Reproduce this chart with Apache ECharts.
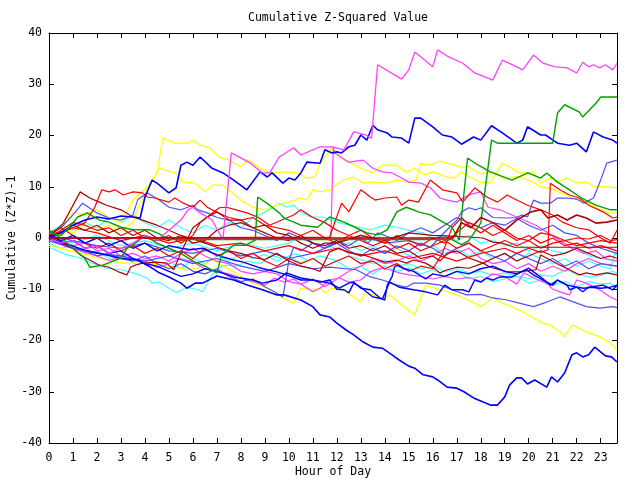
<!DOCTYPE html>
<html><head><meta charset="utf-8">
<script src="https://cdn.jsdelivr.net/npm/echarts@6/dist/echarts.min.js"></script>
<style>html,body{margin:0;padding:0;background:#fff}#c{width:640px;height:480px}</style>
</head><body><div id="c"></div>
<script>
const titleText = "Cumulative Z-Squared Value";
const xName = "Hour of Day";
const yName = "Cumulative (Z*Z)-1";
const xMin = 0, xMax = 23.68, yMin = -40, yMax = 40;

const pinkTop = [[0,0],[0.5,-1],[1,-0.5],[1.5,-2],[2,-1.5],[2.5,-3],[3,-2],[3.5,-1],[4,0.5],[4.5,-0.5],[5,1.5],[5.5,3.5],[5.8,5.5],[6,6],[6.3,4.9],[6.8,3.5],[7.25,-0.4],[7.6,16.6],[8.4,14.6],[8.9,12.7],[9.2,12.7],[9.6,15.8],[10.2,17.6],[10.5,16.2],[11,17.2],[11.3,17.8],[11.8,17.8],[12.3,17.2],[12.7,20.7],[13.2,20.1],[13.45,19.5],[13.7,33.8],[14.7,31],[15,32.8],[15.25,36.3],[16,33.4],[16.2,36.7],[16.6,35.5],[17.25,34.1],[17.75,32.2],[18.5,30.8],[18.9,34.7],[19.5,33.4],[19.75,32.8],[20.2,35.7],[20.6,34.1],[21.1,33.4],[21.6,33.2],[22,32.2],[22.25,34.3],[22.5,33.4],[22.7,33.8],[22.96,33.2],[23.2,33.8],[23.5,32.8],[23.68,34.1]];
const blueTop = [[0,0.3],[0.5,1],[1,2.5],[1.5,3.5],[2,4.1],[2.5,3.7],[3,4.3],[3.5,4.1],[3.8,3.9],[4,8],[4.3,11.3],[4.5,10.7],[5,8.8],[5.3,9.8],[5.5,14.2],[5.75,14.8],[6,14.2],[6.3,15.8],[6.8,13.6],[7.25,12.7],[7.7,11.3],[8.25,9.4],[8.8,12.9],[9.1,11.9],[9.3,12.7],[9.75,10.7],[10,11.7],[10.25,11.3],[10.5,12.7],[10.75,14.8],[11.3,14.6],[11.5,17.2],[11.8,16.6],[12,16.8],[12.2,16.6],[12.5,17.8],[12.75,18.1],[13,20.1],[13.25,19.1],[13.5,22],[13.7,21.1],[14.1,20.5],[14.3,19.7],[14.7,19.5],[15,18.5],[15.25,23.4],[15.5,23.4],[16,21.7],[16.4,20.1],[16.8,19.7],[17.2,18.3],[17.7,19.7],[18,19.1],[18.45,21.9],[18.9,20.5],[19.5,18.5],[19.75,19.1],[19.95,21.7],[20.5,20.1],[20.7,20.1],[21.2,18.5],[21.7,18.1],[22,18.5],[22.4,16.8],[22.7,20.7],[23.1,19.7],[23.5,19.1],[23.68,18.5]];
const greenTop = [[0,1],[0.5,0.5],[0.75,1.6],[1.2,4.1],[1.6,4.9],[2.1,3.5],[2.5,3.1],[3,2.1],[3.5,1.6],[4.2,1.6],[4.6,0.8],[5,-0.3],[16.8,-0.3],[17.2,-1.3],[17.5,-0.5],[18,2.9],[18.45,19.1],[18.7,18.5],[21,18.5],[21.2,24.4],[21.5,26],[22.1,24.6],[22.25,23.6],[22.8,26.3],[23,27.5],[23.68,27.5]];
const greenMid = [[0,1.5],[0.5,0],[1,-2],[1.5,-4],[1.7,-5.7],[2.25,-5.3],[3,-3.9],[3.25,-2],[3.6,-1],[4,0.5],[4.5,-1],[5,-2],[5.5,-3],[6,-4.5],[6.5,-5.5],[7,-6.8],[7.2,-3.3],[7.7,-1.4],[8.2,-1.4],[8.6,-0.4],[8.7,8],[9.2,6.4],[9.6,4.9],[9.8,3.9],[10,3.5],[10.5,2.5],[11.2,2.1],[11.7,4.1],[12.3,3.1],[12.8,2],[13.25,1],[13.7,0.6],[14.1,1.6],[14.5,5.1],[14.9,6],[15.4,5.1],[15.9,4.5],[16.5,2.9],[16.8,2.1],[17.1,-0.4],[17.45,15.6],[17.9,14.2],[18.4,12.9],[19.3,11.3],[19.96,12.7],[20.5,11.7],[20.75,12.7],[21.2,10.9],[21.7,9.4],[22.2,7.8],[22.8,6.4],[23.4,5.5],[23.68,5.5]];
const blueBottom = [[0,0],[0.5,-0.8],[1,-1.6],[1.5,-2.4],[2,-2.9],[2.5,-3.4],[3,-4],[3.7,-4.3],[4.2,-5.6],[4.6,-6.8],[5,-7.6],[5.5,-8.8],[5.75,-9.8],[6.1,-8.8],[6.4,-8.8],[7,-7.4],[7.7,-8.2],[8.3,-9.2],[8.9,-10.1],[9.5,-11.1],[9.8,-11.1],[10.5,-12.1],[11,-13.4],[11.3,-15],[11.7,-15.4],[12,-16.6],[12.4,-18],[12.7,-18.9],[13.1,-20.3],[13.5,-21.3],[13.9,-21.5],[14.3,-22.8],[14.6,-23.8],[15,-25],[15.25,-25.4],[15.6,-26.7],[16,-27.1],[16.2,-27.7],[16.6,-29.1],[17,-29.3],[17.3,-30],[17.7,-31.2],[18.1,-32],[18.4,-32.6],[18.7,-32.6],[19,-31],[19.2,-28.7],[19.5,-27.3],[19.7,-27.3],[19.95,-28.5],[20.25,-27.7],[20.75,-29.1],[20.95,-27.1],[21.2,-28.1],[21.5,-26.3],[21.8,-22.8],[22,-22.4],[22.25,-23.2],[22.5,-22.8],[22.75,-21.3],[23.2,-23],[23.45,-23.2],[23.68,-24.2]];
const blueMid = [[0,0],[0.5,-1],[1,-0.5],[1.5,-2],[2,-1.5],[2.5,-3],[3,-2.5],[3.5,-4],[4,-5],[4.5,-5.5],[5,-6.5],[5.5,-7.5],[6,-7],[6.5,-6],[7,-6.5],[7.7,-7.6],[8.5,-8.2],[8.9,-8.8],[9.5,-8.2],[9.9,-6.8],[10.5,-7.8],[11,-8.2],[11.3,-8.6],[11.7,-8.2],[12,-10],[12.3,-10.1],[12.5,-10.7],[12.7,-8.8],[13,-9.6],[13.5,-11.5],[13.9,-11.9],[14.2,-8.6],[14.6,-9.6],[15.2,-10.1],[15.7,-10.5],[16.2,-11.1],[16.5,-9.2],[16.8,-10.1],[17.25,-10.1],[17.5,-10.5],[17.75,-8.2],[18,-8.6],[18.25,-7.8],[18.5,-8.2],[18.8,-7.6],[19.3,-7.6],[19.6,-6.8],[20,-5.9],[20.2,-6.6],[20.5,-7.6],[20.9,-9.2],[21.2,-8.2],[21.6,-9.2],[21.7,-10.1],[22,-9.6],[22.3,-9.8],[22.6,-9.6],[23,-9.8],[23.4,-9.6],[23.68,-9.2]];
const blueThird = [[0,0.5],[0.5,-0.5],[1,0.5],[1.5,-1],[2,0],[2.5,-1.5],[3,-0.5],[3.5,-2],[4,-1],[4.5,-2.5],[5,-1.5],[5.5,-2],[5.9,-2.3],[6.4,-2],[6.8,-2.9],[7.25,-3.7],[7.7,-4.3],[8.1,-4.7],[8.7,-5.7],[9.1,-6.2],[9.5,-6.6],[9.9,-7.2],[10.5,-8.2],[11,-8.2],[11.7,-8.8],[12.1,-9.8],[12.5,-8.8],[12.7,-8.6],[13,-9.8],[13.4,-10.1],[13.8,-11.7],[14,-12.1],[14.1,-9.2],[14.3,-7.6],[14.4,-5.7],[14.5,-5.3],[14.75,-5.9],[15.2,-6.5],[15.7,-8],[16,-7],[16.5,-7.5],[17,-6.5],[17.5,-7],[18,-6],[18.5,-5.5],[19,-6.5],[19.5,-7],[19.9,-6.2],[20.2,-7.2],[20.6,-8.2],[21,-9.2],[21.2,-8.2],[21.6,-9.2],[22,-9.6],[22.25,-10.5],[22.5,-9.6],[23.1,-9.2],[23.5,-10.1],[23.68,-9.2]];
const yellowTop = [[0,0],[0.5,1.5],[1,5],[1.5,4.5],[2,5.5],[2.5,4],[3,3],[3.5,7.4],[4.1,10],[4.5,12.7],[4.75,19.5],[5.25,18.5],[5.8,18.5],[6,19.1],[6.3,18.1],[6.7,17.6],[7.1,15.8],[7.5,15.2],[8,13.9],[8.3,15.2],[8.8,13.6],[9.2,12.7],[9.9,12.9],[10.4,12.7],[10.7,11.7],[11.1,11.9],[11.3,14.6],[11.8,17.6],[12.2,15.6],[12.5,14.8],[13,13.6],[13.5,12.7],[13.9,14.2],[14.5,14.2],[14.9,12.9],[15.25,13.6],[15.7,12.3],[16,12.9],[16.6,11.9],[16.9,11.7],[17.2,12.9],[17.5,11.9],[18,10.9],[18.4,10.7],[18.9,14.6],[19.3,13.6],[19.6,12.7],[20.2,12.7],[20.5,10.7],[20.9,11.7],[21.2,10.9],[21.6,11.7],[22,10.7],[22.4,10.9],[22.75,10],[23.2,10],[23.68,9.8]];
const yellowMid = [[0,0.5],[0.5,2],[1,1],[1.5,2.5],[2,1.5],[2.5,2.5],[3,1.5],[3.5,3],[3.8,7],[4.3,11],[4.6,13.6],[5.25,12.7],[5.6,10.9],[6.1,10.7],[6.5,9],[6.8,10.3],[7.25,10.3],[8,7.4],[8.5,6],[9,5.5],[9.5,6.5],[10,7],[10.5,7.8],[10.75,7.4],[11,9.4],[11.3,9],[11.7,9.4],[12.25,11.3],[12.7,11.9],[13.1,10.7],[13.5,10.9],[14,10.7],[14.5,11.3],[14.9,10.9],[15.3,11.3],[15.5,14.5],[15.9,14.2],[16.3,15],[16.7,14.5],[17.2,13.8],[17.5,13.9],[18,12.5],[18.5,12.9],[19,11.5],[19.5,12],[20,11.3],[20.5,10],[21,9.5],[21.5,8.5],[22,7.5],[22.5,6.8],[23,5.5],[23.4,4.8],[23.68,4.9]];
const yellowBottom = [[0,-1.4],[0.75,-2.3],[1.6,-3.3],[2.4,-4.3],[3.1,-4.9],[3.9,-4.9],[4.6,-5.3],[5.2,-5.7],[5.75,-6.2],[6.2,-5.9],[6.8,-4.3],[7.7,-6.6],[8.4,-8.6],[9.1,-9.8],[9.75,-11.7],[10.2,-12.7],[10.5,-9.8],[11,-10.1],[11.3,-9.8],[11.5,-10.7],[11.8,-9.8],[12.25,-10.1],[12.7,-11.5],[13,-12.5],[13.2,-10.5],[13.5,-11.1],[13.9,-11.9],[14.2,-11.1],[14.6,-12.7],[15.25,-15],[15.7,-9.2],[16.3,-10.1],[16.8,-10.7],[17.5,-12.1],[18,-13.4],[18.5,-11.7],[18.9,-12.7],[19.3,-13.4],[19.75,-14.4],[20.2,-15.6],[20.6,-16.6],[20.9,-17],[21.3,-18.3],[21.5,-19.3],[21.8,-17],[22.1,-17.6],[22.5,-18.5],[22.96,-19.3],[23.4,-20.5],[23.68,-21.9]];
const slateTop = [[0,0.5],[1,-0.5],[2,-1.5],[3,-2],[4,-1],[5,-2.5],[6,-3],[7,-2],[8,-3.5],[9,-2.5],[10,-4],[11,-3],[12,-1],[13,0.5],[14,-1],[15,-0.5],[15.9,-1.8],[16.3,0.2],[16.7,2.1],[17,3.5],[17.2,5.1],[17.5,5.9],[17.8,5.5],[18,5.9],[18.5,4],[19.1,3.9],[19.5,4],[19.7,4.5],[19.95,4.1],[20.2,7.4],[20.5,6.8],[20.9,6.8],[21.2,7.8],[21.6,7.8],[22,7.6],[22.3,6.8],[22.7,7.8],[23,11.3],[23.25,14.6],[23.68,15.2]];
const slateLow = [[0,-0.5],[1,-2],[2,-3],[3,-3.5],[4,-4.5],[5,-3.5],[6,-5],[7,-4],[8,-5.5],[9,-6.5],[10,-5],[11,-6],[11.7,-5.7],[12.8,-6.2],[13.4,-7.6],[13.9,-8.2],[14.5,-9.2],[14.9,-9.6],[15.2,-8.8],[15.7,-8.8],[16.3,-9.2],[16.8,-10.1],[17.4,-11.1],[18,-11],[18.5,-11.7],[19.1,-12.1],[19.6,-12.7],[20.2,-13.4],[20.75,-12.5],[21.3,-11.5],[22,-12.7],[22.4,-13.4],[22.96,-13.7],[23.5,-13.4],[23.68,-13.6]];
const slateJump = [[0,0],[0.5,-1],[1,-2],[1.5,-2.5],[2,-3.5],[2.5,-3],[3,-4],[3.5,-4.5],[4,-3.5],[4.5,-5],[5,-6],[5.5,-5],[6,-6.5],[6.5,-7],[7,-6],[7.5,-7.5],[8,-8.5],[8.5,-8],[9,-9.5],[9.4,-10.5],[9.75,-11.5],[9.85,-8.8],[10,-4.3],[10.2,-1.8],[10.5,-2.5],[11,-1],[11.5,-2],[12,-0.5],[12.5,-1.5],[13,0],[13.3,-1],[13.7,1],[14,0.5],[14.5,-0.5],[15,1],[15.5,2],[16,1],[16.5,2.5],[17,4],[17.5,3],[18,2],[18.5,3],[19,2.5],[19.5,3.8],[20,2.5],[20.5,1.5],[21,2.5],[21.5,1],[22,0.5],[22.5,-1],[23,-2],[23.68,-3]];
const slateEarly = [[0,0.5],[0.5,2],[1,4.5],[1.4,6.8],[2,4.9],[2.5,3.9],[3,3.5],[3.5,4.5],[3.7,7.5],[4.1,8.8],[4.6,7.4],[5,6],[5.5,5.5],[6,6.4],[6.2,5.5],[6.6,4.9],[7,4],[7.5,3.5],[8,2],[8.5,1.5],[9,0.5],[9.5,-0.5],[10,1],[10.5,0],[11,-1],[11.5,-2],[12,-1],[12.5,-2.5],[13,-3.5],[13.5,-2],[14,-3],[14.5,-1.5],[15,-2.5],[15.5,-1],[16,-2],[16.5,-3.5],[17,-2],[17.5,-1],[18,-2.5],[18.5,-3.5],[19,-4.5],[19.5,-3],[20,-4],[20.5,-5],[21,-4],[21.5,-5.5],[22,-4.5],[22.5,-6],[23,-5],[23.68,-5.5]];
const pinkJump = [[0,0],[11.75,0],[11.85,17.8],[11.9,16.6],[12.5,14.8],[13.1,15.2],[13.5,13.6],[13.9,12.9],[14.3,12.7],[14.7,11.7],[15,10.9],[15.5,10.7],[15.9,9.8],[16.3,7.8],[16.6,7.4],[17,7],[17.5,8.4],[18,9],[18.3,6],[18.8,5.5],[19.3,4.5],[19.8,3.5],[20.3,2.5],[20.8,1],[21.3,-0.5],[21.8,-2],[22.3,-3],[22.8,-2.5],[23.2,-4],[23.68,-4.5]];
const pinkLow = [[0,-0.5],[0.5,-1.3],[1,-2.1],[1.5,-2.8],[2,-3.5],[2.5,-4.4],[3,-3.6],[3.5,-4.2],[4,-4.5],[4.5,-5.8],[5,-5],[5.5,-4],[6,-4.7],[6.5,-6],[7,-6.5],[7.5,-7],[8,-7.8],[8.5,-8.5],[9,-9.2],[9.4,-7.8],[9.8,-8.6],[10.2,-8],[10.5,-9],[11,-10.5],[11.3,-9.8],[11.7,-8.2],[12.1,-7.8],[12.5,-8.6],[13,-8.2],[13.4,-6.6],[13.8,-5.9],[14.2,-6.2],[14.6,-6.8],[15,-7.2],[15.5,-7.5],[16,-8],[16.5,-7.5],[17,-8],[17.5,-7.7],[18,-8.5],[18.5,-7],[19,-7.5],[19.5,-9],[19.8,-6.8],[20.3,-8],[20.8,-9],[21,-10],[21.3,-10.5],[21.7,-11.1],[22,-8.2],[22.4,-8.8],[22.96,-10.1],[23.4,-11.5],[23.68,-12.1]];
const pinkMid = [[0,0.5],[0.5,-0.5],[1,-1.5],[1.5,-1],[2,-2.5],[2.5,-2],[3,-3.5],[3.5,-3],[4,-4],[4.5,-3.5],[5,-4.5],[5.5,-3],[6,-2],[6.5,-3.5],[7,-4.5],[7.5,-5],[8,-6.5],[8.5,-7],[9,-6.5],[9.5,-7],[10,-8.5],[10.5,-9],[11,-8],[11.5,-9.5],[12,-8],[12.5,-6.5],[13,-5.5],[13.5,-4],[14,-5],[14.5,-4.5],[15,-3.5],[15.5,-4.5],[16,-3.5],[16.5,-2],[17,-3],[17.5,-2],[18,-4],[18.5,-5],[19,-4.5],[19.5,-6],[20,-5],[20.5,-6.5],[21,-5.5],[21.5,-6.5],[22,-5],[22.5,-4],[23,-5],[23.68,-5.5]];
const cyanLow = [[0,-1.8],[0.75,-3.3],[1.3,-3.9],[1.8,-4.9],[2.4,-5.9],[3,-6.2],[3.5,-6.8],[4.1,-7.8],[4.3,-8.8],[4.6,-8.6],[5,-9.8],[5.3,-10.7],[5.75,-9.6],[6.2,-10.1],[6.4,-10.5],[6.8,-7.2],[7.1,-5.7],[7.4,-5.3],[7.8,-5.5],[8.3,-4.5],[8.8,-5],[9.3,-3.5],[9.8,-4],[10.3,-3],[10.8,-4.5],[11.3,-3.5],[12,-4.5],[12.5,-3.5],[13,-4.2],[13.5,-5],[14,-4.3],[14.5,-5.5],[15,-5],[15.5,-6],[16,-5.5],[16.5,-6.5],[17,-6],[17.5,-6.8],[18,-6.5],[18.5,-7.2],[19,-6.8],[19.5,-7.5],[20,-7.9],[20.5,-7.2],[21,-7.5],[21.5,-6.2],[22,-7],[22.5,-7.6],[23,-7.3],[23.5,-6.5],[23.68,-6.8]];
const cyanHigh = [[0,1],[0.5,2.5],[1,1.5],[1.5,3],[2,2],[2.5,4],[3,3],[3.5,4.5],[4,3],[4.5,2],[5,3.5],[5.5,2],[6,1],[6.5,2.5],[7,1.5],[7.5,3],[8,2],[8.5,4],[9,5],[9.6,6.8],[9.9,6],[10.2,6.4],[10.5,5.1],[10.9,4.1],[11.4,4.1],[12,3.1],[12.5,2.5],[13,2],[13.4,1.6],[14,2.5],[14.5,2.1],[15,1.5],[15.6,1],[16,0],[16.5,0.5],[17,-0.5],[17.5,0.5],[18,-1],[18.5,-0.5],[19,-1.5],[19.5,-1],[20,-2.5],[20.5,-1.5],[21,-2.5],[21.5,-3],[22,-2],[22.5,-3.5],[23,-4],[23.68,-4.5]];
const cyanMid = [[0,0.5],[1,-1],[2,0.5],[3,-1.5],[4,-0.5],[5,-2],[6,-1],[7,-2.5],[8,-1],[9,-2],[10,-1],[10.5,0.5],[11,-1],[12,-2],[12.5,-1],[13,-2.5],[13.5,-1.5],[14,-3],[14.5,-2],[15,-3.5],[15.5,-2.5],[16,-1.5],[16.5,-3],[17,-2],[17.5,-3.5],[18,-2.5],[18.5,-4],[19,-3],[19.5,-4.5],[20,-3],[20.5,-4],[21,-5],[21.5,-4],[22,-5.5],[22.5,-4.5],[23,-5.5],[23.4,-6],[23.6,-3],[23.68,-3.3]];
const cyanLower = [[0,-1],[0.5,-2],[1,-1.5],[1.5,-3],[2,-2.5],[2.5,-4],[3,-3.5],[3.5,-4.8],[4,-4],[4.5,-5.5],[5,-4.5],[5.5,-6],[6,-4],[6.5,-5],[7,-3.5],[7.5,-4.5],[8,-3],[8.5,-4],[9,-3.2],[9.5,-4.5],[10,-3.5],[10.5,-5],[11,-4],[11.5,-5.5],[12,-4.5],[12.5,-6],[13,-5.5],[13.5,-7],[14,-5.5],[14.5,-6.5],[15,-5.8],[15.5,-7],[16,-6.2],[16.5,-7.5],[17,-6.5],[17.5,-8],[18,-7.5],[18.5,-8.5],[19,-8],[19.5,-7.5],[20,-8.8],[20.5,-8.2],[21,-9.2],[21.5,-8.5],[22,-9.5],[22.5,-8.5],[23,-9],[23.4,-8.8],[23.68,-9.8]];
const redHigh = [[0,0],[11.7,0.2],[12.2,6.8],[12.5,5.1],[13,9.4],[13.4,8],[13.6,7.4],[14,7.8],[14.5,8],[14.7,6.4],[15,7.4],[15.4,7],[15.9,11.3],[16.4,9.4],[17,8.8],[17.25,7],[17.75,9.8],[18.25,8],[18.7,7],[19.1,8.4],[19.5,7.4],[19.95,6.4],[20.5,5.5],[21,4.5],[21.4,3.1],[22,2],[22.5,1.6],[23,0],[23.4,-1],[23.68,1.5]];
const redEarly = [[0,0.5],[0.5,1],[1,2],[1.5,3],[1.9,5.9],[2.2,9.4],[2.5,9],[2.75,9.4],[3.1,8.4],[3.5,9],[3.9,8.8],[4.1,8],[4.4,7.8],[5,7],[5.25,7.8],[5.6,6.8],[6,6],[6.3,7.4],[6.6,6],[7,5],[7.5,4],[8,3.5],[8.5,4],[9,2.5],[9.5,2],[10,1.5],[10.5,0.5],[11,1.5],[11.5,0],[12,-1],[12.5,0.5],[13,-0.5],[13.5,-1.5],[14,-0.5],[14.5,-2],[15,-1],[15.5,-2.5],[16,-1.5],[16.5,-0.5],[17,-2],[17.5,-1],[18,-2.5],[18.5,-1.5],[19,-0.5],[19.5,-1.5],[20,-0.5],[20.5,-2],[21,-1],[21.5,-0.5],[22,-1.5],[22.5,-1],[23,-0.5],[23.68,-1]];
const redJump = [[0,0.5],[1,2],[2,1],[3,-0.5],[4,0.5],[5,-1],[6,0],[7,-1.5],[8,-1],[9,-2.5],[10,-1.5],[11,-3],[12,-2],[13,-3.5],[14,-2.5],[15,-4],[16,-3],[17,-4.5],[18,-3],[19,-2],[19.5,-3],[20,-2],[20.5,-2.8],[20.8,-2.3],[20.9,10.7],[21.3,9.4],[21.7,8.4],[22.1,7.8],[22.5,6.4],[23.1,5.1],[23.5,3.9],[23.68,4.1]];
const redMid = [[0,0],[0.5,1.5],[1,3],[1.5,2.5],[2,1.5],[2.5,2],[3,0.5],[3.5,1.5],[4,0],[4.5,-0.5],[5,0.5],[5.5,-1],[6,0.5],[6.3,3],[6.7,4.5],[7.1,5.9],[7.4,6],[7.8,5.5],[8.25,4.9],[8.7,4.1],[9.2,2.5],[9.7,3.5],[10.2,4.5],[10.5,5.5],[11,4],[11.5,3],[12,1.5],[12.5,0.5],[13,1.5],[13.5,0],[14,-1],[14.5,0.5],[15,-0.5],[15.5,-1.5],[16,0],[16.5,-1],[17,1],[17.5,3],[18,2],[18.5,0.5],[19,1.5],[19.5,0],[20,-0.5],[20.5,1],[21,0.5],[21.5,-0.5],[22,0],[22.5,-0.2],[23,0.5],[23.4,-0.5],[23.68,-0.3]];
const redLow = [[0,1],[0.5,2],[1,0.5],[1.5,-1],[2,-2],[2.5,-1],[3,-2.5],[3.5,-1.5],[4,-3],[4.5,-2],[5,-3.5],[5.5,-2.5],[6,-4],[6.5,-2],[7,-3.5],[7.5,-2.5],[8,-4],[8.5,-3],[9,-4.5],[9.5,-5.5],[10,-4],[10.5,-5],[11,-4],[11.5,-5.5],[12,-4.5],[12.5,-3.5],[13,-5],[13.5,-4.5],[14,-6],[14.5,-5],[15,-6.5],[15.5,-5.5],[16,-6],[16.4,-3],[16.8,2],[17.2,4],[17.5,2.5],[18,1],[18.5,2.5],[19,1],[19.5,-0.5],[20,0.5],[20.5,-1],[21,0],[21.5,-1.5],[22,-1],[22.5,-2],[23,-1.5],[23.68,-2.5]];
const darkRedHigh = [[0,0],[0.3,1.5],[0.6,2.9],[1.3,9],[1.7,7.8],[2.1,7],[2.4,6.4],[3,5.5],[3.5,4.1],[3.9,3.5],[4.5,2.5],[5,1.5],[5.5,0.5],[6,-0.2],[6.5,-1],[7,-1.8],[7.5,-2.5],[8,-3],[8.5,-3.8],[9,-4.2],[9.5,-3],[10,-4.5],[10.5,-5.5],[11,-6],[11.3,-6.5],[11.7,-2.7],[12.1,-2],[12.5,-2.9],[13.1,-3.3],[13.5,-3.9],[14,-4.7],[14.5,-4.3],[14.9,-4.9],[15.2,-4.3],[15.7,-4.9],[16,-5.7],[16.3,-6.8],[16.6,-6.2],[17,-5.7],[17.5,-5.9],[18.1,-4.9],[18.4,-5.7],[19.1,-6.6],[19.6,-6.6],[20.3,-6.2],[20.5,-3.3],[20.9,-4.3],[21.3,-5.3],[21.7,-6.2],[22.1,-7.2],[22.4,-6.8],[22.8,-7.2],[23.25,-6.8],[23.68,-7.2]];
const darkRedLow = [[0,0],[0.5,-1],[1,-2],[1.3,-3.3],[1.7,-4.3],[2.1,-5.3],[2.5,-5.7],[2.9,-6.6],[3.25,-7.2],[3.4,-5.7],[3.6,-5.3],[3.9,-4.9],[4.5,-4.7],[4.9,-4.9],[5.2,-6.2],[5.5,-2.9],[5.75,-0.4],[6,2],[6.6,4.1],[7,5.1],[7.5,3.5],[8,3.5],[8.5,2],[9,2.5],[9.5,1],[10,0.5],[10.5,-1],[11,-2],[11.5,-1],[12,-1],[13,0.5],[14,-0.5],[15,1],[16,0.5],[17,0.3],[17.5,0.2],[18.1,0],[18.5,-0.8],[18.9,-1],[19.4,-1.8],[23.68,-1.8]];
const darkRedMid = [[0,0],[0.5,1],[1,2.5],[1.5,1.5],[2,2.5],[2.5,1],[3,2],[3.5,0.5],[4,1.5],[4.5,0],[5,-0.5],[5.5,0.5],[6,-1],[6.5,-0.5],[7,1.5],[7.5,2.5],[8,3],[8.5,2],[9,1],[9.5,0],[10,-0.5],[10.5,0.5],[11,-1],[11.5,-1.5],[12,-0.5],[12.5,-2],[13,-1.5],[13.5,-2.5],[14,-1.5],[14.5,-3],[15,-2.5],[15.5,-4],[16,-3.5],[16.3,-4.5],[16.6,-3],[17,-2.5],[17.5,-3.9],[18.1,-4.9],[18.5,-4],[19,-3],[19.5,-4.5],[20,-3.5],[20.5,-2.5],[21,-3.5],[21.5,-3],[22,-2],[22.5,-3],[23,-4],[23.4,-3.5],[23.68,-4]];
const darkRedFlat = [[0,0],[16.85,0],[17.2,3],[17.6,2],[18,4],[18.5,3],[19,1.5],[19.5,3.5],[20.1,5.1],[20.5,5.5],[20.8,3.9],[21.2,4.5],[21.6,3.5],[22,4.5],[22.4,3.9],[22.8,2.9],[23.25,3.1],[23.68,3.5]];

const C = {red:'#ff0000', green:'#00a000', blue:'#0000ff', pink:'#ff40ff', cyan:'#40ffff', dred:'#b00000', yellow:'#ffff00', slate:'#5050ff'};
const seriesDefs = [
  [cyanLow,C.cyan,1.2],[cyanHigh,C.cyan,1.2],[cyanMid,C.cyan,1.2],[cyanLower,C.cyan,1.2],
  [yellowBottom,C.yellow,1.3],[yellowMid,C.yellow,1.3],[yellowTop,C.yellow,1.3],
  [pinkLow,C.pink,1.2],[pinkMid,C.pink,1.2],[pinkJump,C.pink,1.2],
  [slateLow,C.slate,1.2],[slateJump,C.slate,1.2],[slateEarly,C.slate,1.2],[slateTop,C.slate,1.2],
  [redLow,C.red,1.2],[redMid,C.red,1.2],[redEarly,C.red,1.2],[redJump,C.red,1.2],[redHigh,C.red,1.2],
  [darkRedMid,C.dred,1.2],[darkRedLow,C.dred,1.2],[darkRedHigh,C.dred,1.2],
  [blueThird,C.blue,1.4],[blueMid,C.blue,1.4],[blueBottom,C.blue,1.6],[blueTop,C.blue,1.6],
  [greenMid,C.green,1.4],[greenTop,C.green,1.4],
  [pinkTop,C.pink,1.3],[darkRedFlat,C.dred,1.6]
];

const font = 'DejaVu Sans Mono';
const chart = echarts.init(document.getElementById('c'), null, {renderer:'canvas'});
const axisCommon = {
  axisLine:{show:true,onZero:false,lineStyle:{color:'#000',width:1}},
  axisTick:{show:true,inside:true,length:5,lineStyle:{color:'#000'}},
  splitLine:{show:false}
};
chart.setOption({
  animation:false,
  backgroundColor:'#fff',
  title:{text:titleText,left:243,top:7,textStyle:{fontFamily:font,fontSize:11.5,fontWeight:'normal',color:'#000'}},
  grid:{left:49,right:23,top:33,bottom:37,containLabel:false,outerBoundsMode:'none'},
  xAxis:[
    Object.assign({type:'value',min:xMin,max:xMax,interval:1,position:'bottom',
      name:xName,nameLocation:'middle',nameGap:23,nameMoveOverlap:false,
      nameTextStyle:{fontFamily:font,fontSize:11.5,color:'#000'},
      axisLabel:{fontFamily:font,fontSize:11.5,color:'#000',margin:9,
        formatter:v=>Number.isInteger(v)?String(v):''}},axisCommon),
    Object.assign({type:'value',min:xMin,max:xMax,interval:1,position:'top',axisLabel:{show:false}},axisCommon)
  ],
  yAxis:[
    Object.assign({type:'value',min:yMin,max:yMax,interval:10,position:'left',
      name:yName,nameLocation:'middle',nameGap:31,nameRotate:90,nameMoveOverlap:false,
      nameTextStyle:{fontFamily:font,fontSize:11.5,color:'#000'},
      axisLabel:{fontFamily:font,fontSize:11.5,color:'#000',margin:7}},axisCommon),
    Object.assign({type:'value',min:yMin,max:yMax,interval:10,position:'right',axisLabel:{show:false}},axisCommon)
  ],
  series: seriesDefs.map(([d,c,w])=>({type:'line',data:d,showSymbol:false,symbol:'none',clip:true,
    lineStyle:{color:c,width:w},itemStyle:{color:c},emphasis:{disabled:true}}))
});
</script></body></html>
